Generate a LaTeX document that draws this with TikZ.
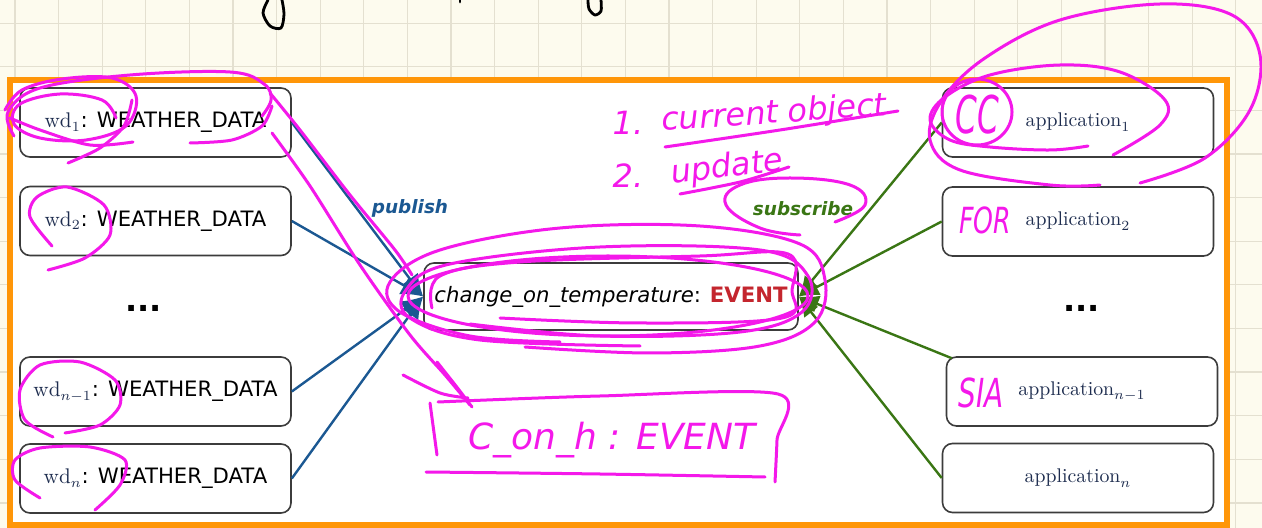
\documentclass[tikz,border=0pt]{standalone}
\usepackage{fontspec}
\setsansfont{DejaVu Sans}
\usetikzlibrary{arrows.meta}

\definecolor{paper}{RGB}{253,251,238}
\definecolor{gridc}{RGB}{228,224,208}
\definecolor{framec}{RGB}{255,150,8}
\definecolor{boxgray}{RGB}{60,60,60}
\definecolor{pubblue}{RGB}{27,88,146}
\definecolor{subgreen}{RGB}{58,118,20}
\definecolor{evred}{RGB}{196,38,46}
\definecolor{navy}{RGB}{30,45,79}
\definecolor{ink}{RGB}{244,24,234}

\tikzset{
  objbox/.style={draw=boxgray, line width=0.8pt, rounded corners=5pt, fill=white,
    minimum width=135.5pt, minimum height=34.5pt, inner sep=0pt,
    font=\fontsize{10.6}{12}\selectfont},
  appbox/.style={objbox, font=\fontsize{9.9}{12}\selectfont},
  evbox/.style={objbox, minimum width=187pt, minimum height=33.5pt,
    font=\fontsize{10.6}{12}\selectfont\sffamily},
  pub/.style={draw=pubblue, line width=1.2pt, -{Latex[length=11pt,width=10pt]}},
  sub/.style={draw=subgreen, line width=1.2pt, -{Latex[length=10pt,width=9pt]}},
  dots/.style={font=\fontsize{16}{18}\selectfont\sffamily\bfseries, anchor=base, inner sep=0pt},
  ink/.style={draw=ink, line width=1.5pt, line cap=round, line join=round},
  inktext/.style={text=ink, font=\sffamily\itshape, inner sep=0pt},
  pen/.style={draw=black, line width=1.4pt, line cap=round, line join=round},
}

\newcommand{\wdlabel}[1]{\textcolor{navy}{$\mathrm{wd}_{#1}$}\sffamily: WEATHER\_DATA}
\newcommand{\applabel}[1]{\textcolor{navy}{$\mathrm{application}_{#1}$}}

\begin{document}
\begin{tikzpicture}[x=0.5pt,y=-0.5pt]
\useasboundingbox (0,0) rectangle (1262,528);

% squared paper
\fill[paper] (0,0) rectangle (1262,528);
\foreach \i in {0,...,28}
  \draw[gridc, line width=0.6pt] ({15+43.6*\i},0) -- ({15+43.6*\i},528);
\foreach \j in {0,...,11}
  \draw[gridc, line width=0.6pt] (0,{23.3+43.6*\j}) -- (1262,{23.3+43.6*\j});

% pen strokes cut off at the top edge
\draw[pen] plot[smooth] coordinates {(268,0) (263,13) (270,26) (281,28) (284,14) (282,0)};
\draw[pen] (460,0) -- (460,2);
\draw[pen] plot[smooth] coordinates {(588,0) (589,9) (595,15) (601,11) (601,0)};

% slide frame
\draw[framec, fill=white, line width=2.6pt] (10,80) rectangle (1227,525);

% publishers
\node[objbox] (wd1)  at (155.5,122.5) {\wdlabel{1}};
\node[objbox] (wd2)  at (155.5,221)   {\wdlabel{2}};
\node[objbox] (wdn1) at (155.5,391.5) {\wdlabel{n-1}};
\node[objbox] (wdn)  at (155.5,478.5) {\wdlabel{n}};
\node[dots]   (ldots) at (143.5,312) {...};

% event
\node[evbox] (ev) at (611,296.5) {\textit{change\_on\_temperature}: \textcolor{evred}{\bfseries EVENT}};

% subscribers
\node[appbox] (app1)  at (1078,122.5) {\applabel{1}};
\node[appbox] (app2)  at (1078,221.5) {\applabel{2}};
\node[appbox] (appn1) at (1082,391.5) {\applabel{n-1}};
\node[appbox] (appn)  at (1078,478)   {\applabel{n}};
\node[dots]   (rdots) at (1081.5,312) {...};

% connectors
\draw[pub] (wd1.east)  -- (ev.west);
\draw[pub] (wd2.east)  -- (ev.west);
\draw[pub] (wdn1.east) -- (ev.west);
\draw[pub] (wdn.east)  -- (ev.west);
\draw[sub] (app1.west) -- (ev.east);
\draw[sub] (app2.west) -- (ev.east);
\draw[sub] ([xshift=3pt,yshift=-1pt]appn1.north west) -- (ev.east);
\draw[sub] (appn.west) -- (ev.east);

\node[font=\fontsize{9.2}{11}\selectfont\sffamily\bfseries\itshape, text=pubblue, anchor=base, inner sep=0pt] (publbl) at (410,214) {publish};
\node[font=\fontsize{9.2}{11}\selectfont\sffamily\bfseries\itshape, text=subgreen, anchor=base, inner sep=0pt] (sublbl) at (803,216) {subscribe};

% ---- ink notes ----
% loops around wd_1
\draw[ink] plot[smooth, tension=0.6] coordinates {(5,110) (22,90) (62,79) (112,78) (136,96) (126,126) (86,140) (40,138) (14,124) (20,104) (60,94) (102,100) (116,118)};
\draw[ink] plot[smooth] coordinates {(68,163) (100,148) (124,126) (132,100)};
\draw[ink] plot[smooth, tension=0.6] coordinates {(14,136) (8,112) (40,88) (130,75) (230,72) (264,84) (271,100) (262,116)};
\draw[ink] plot[smooth] coordinates {(190,143) (232,140) (262,126) (272,106)};
\draw[ink] plot[smooth] coordinates {(10,118) (40,130) (90,145) (133,142)};
% long strokes down to the note box
\draw[ink] plot[smooth] coordinates {(270,93) (300,130) (350,195) (395,250) (412,275)};
\draw[ink] plot[smooth] coordinates {(272,133) (310,186) (360,265) (410,335) (445,375) (470,405)};
\draw[ink] plot[smooth] coordinates {(437,362) (456,386) (472,407)};
\draw[ink] plot[smooth] coordinates {(403,375) (440,393) (468,398)};
% wd_2, wd_{n-1}, wd_n
\draw[ink] plot[smooth] coordinates {(52,246) (30,217) (37,197) (67,187) (104,205) (110,235) (85,258) (48,270)};
\draw[ink] plot[smooth] coordinates {(53,437) (25,420) (20,390) (40,365) (80,362) (115,380) (120,405) (100,425) (65,433)};
\draw[ink] plot[smooth] coordinates {(40,498) (15,480) (15,460) (40,448) (90,447) (125,460) (120,485) (95,510)};

% loops around the event
\draw[ink] plot[smooth, tension=0.6] coordinates {(560,342) (470,336) (400,312) (390,282) (440,250) (560,228) (700,226) (800,244) (825,280) (815,322) (760,346) (650,353) (525,347)};
\draw[ink] plot[smooth, tension=0.6] coordinates {(640,346) (480,340) (410,318) (406,290) (450,264) (600,247) (760,250) (808,276) (802,312) (740,332) (600,336) (470,324)};
\draw[ink] plot[smooth, tension=0.6] coordinates {(432,308) (440,276) (520,262) (700,256) (788,254) (792,290) (782,318) (640,323) (500,318)};
\draw[ink] (608,296) ellipse [x radius=200, y radius=40];

% numbered note
\node[inktext, font=\fontsize{16}{18}\selectfont\sffamily\itshape, anchor=base] (n1) at (628,135) {1.};
\node[inktext, font=\fontsize{16}{18}\selectfont\sffamily\itshape, anchor=base west, rotate=4] (n1t) at (662,131) {current object};
\draw[ink] plot[smooth] coordinates {(665,147) (780,130) (898,111)};
\node[inktext, font=\fontsize{16}{18}\selectfont\sffamily\itshape, anchor=base] (n2) at (628,188) {2.};
\node[inktext, font=\fontsize{16}{18}\selectfont\sffamily\itshape, anchor=base west, rotate=7] (n2t) at (672,184) {update};
\draw[ink] plot[smooth] coordinates {(680,194) (740,182) (789,167)};

% subscribe loop
\draw[ink] plot[smooth, tension=0.7] coordinates {(835,222) (865,205) (850,185) (790,178) (740,185) (726,205) (760,228) (800,235)};

% loops around application_1
\draw[ink] plot[smooth, tension=0.6] coordinates {(1140,183) (1205,158) (1250,110) (1260,55) (1232,15) (1160,4) (1060,20) (985,58) (942,100) (930,140) (960,170) (1050,185) (1100,185)};
\draw[ink] plot[smooth, tension=0.6] coordinates {(1113,155) (1160,125) (1165,100) (1120,72) (1060,65) (990,75) (945,97) (930,120) (950,140) (990,147) (1050,150) (1088,146)};
\draw[ink] (977,112) ellipse [x radius=35, y radius=33];
\node[inktext] (cc) at (977,115) {\scalebox{0.6}[1]{\fontsize{26}{28}\selectfont CC}};
\node[inktext] (for) at (985,220) {\scalebox{0.7}[1]{\fontsize{18}{20}\selectfont FOR}};
\node[inktext] (sia) at (981,393) {\scalebox{0.7}[1]{\fontsize{20}{22}\selectfont SIA}};

% note box below the event
\draw[ink] (430,403) -- (437,455);
\draw[ink] plot[smooth] coordinates {(438,402) (600,396) (778,394) (777,440) (775,482)};
\draw[ink] plot[smooth] coordinates {(426,472) (600,474) (765,477)};
\node[inktext, font=\fontsize{18}{20}\selectfont\sffamily\itshape] (note) at (612,440) {C\_on\_h : EVENT};

\end{tikzpicture}
\end{document}
